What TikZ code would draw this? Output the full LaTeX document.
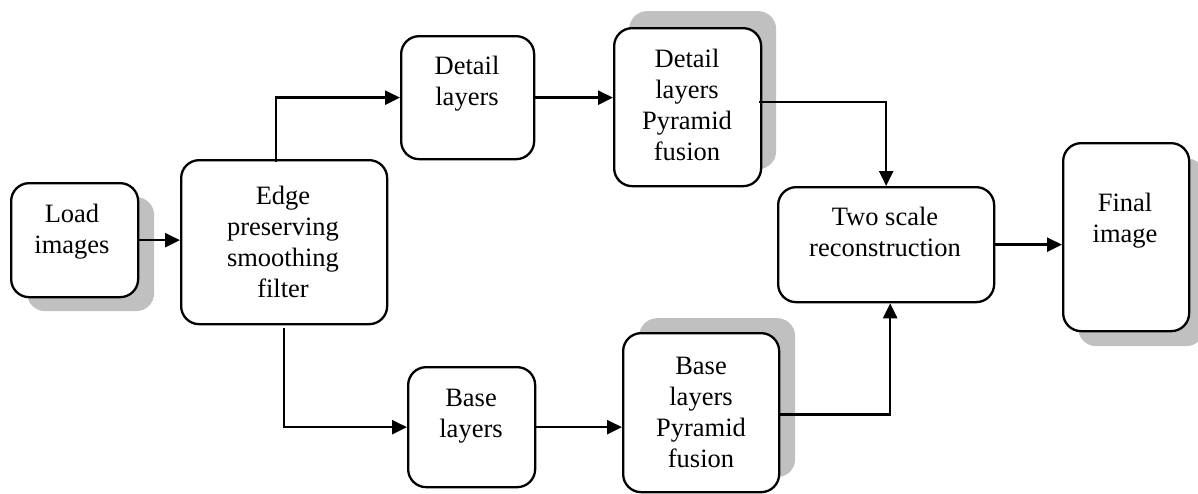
\documentclass[tikz,border=0pt]{standalone}
\usepackage{fontspec}
\setmainfont{Liberation Serif}
\usetikzlibrary{arrows.meta,calc,shadows}
\definecolor{shadowgray}{HTML}{C0C0C0}
\tikzset{
  box/.style={draw=black, line width=2.3pt, rounded corners=18pt, fill=white, inner sep=0pt, anchor=north west},
  txt/.style={align=center, inner sep=0pt, anchor=base, font=\fontsize{26.5}{31}\selectfont},
  arr/.style={line width=2.5pt, -{Triangle[length=15pt,width=14pt]}},
}
\begin{document}
\begin{tikzpicture}[x=1pt,y=-1pt]
\useasboundingbox (0,0) rectangle (1198,493);
\clip (0,0) rectangle (1198,493);
% boxes
\node[box, minimum width=127pt, minimum height=114pt,
      copy shadow={shadow xshift=16pt, shadow yshift=-14pt, draw=none, fill=shadowgray}] (load) at (10,182) {};
\node[box, minimum width=206pt, minimum height=164pt] (edge) at (180,159) {};
\node[box, minimum width=133pt, minimum height=123pt] (detail) at (400,35) {};
\node[box, minimum width=147pt, minimum height=158pt,
      copy shadow={shadow xshift=15pt, shadow yshift=17pt, draw=none, fill=shadowgray}] (dpyr) at (613,27) {};
\node[box, minimum width=216pt, minimum height=115pt] (two) at (777,186) {};
\node[box, minimum width=126pt, minimum height=188pt,
      copy shadow={shadow xshift=15pt, shadow yshift=-15pt, draw=none, fill=shadowgray}] (final) at (1062,142) {};
\node[box, minimum width=127pt, minimum height=120pt] (base) at (407,366) {};
\node[box, minimum width=156pt, minimum height=159pt,
      copy shadow={shadow xshift=16pt, shadow yshift=15pt, draw=none, fill=shadowgray}] (bpyr) at (622,332) {};
% texts (anchor base = baseline of the last line)
\node[txt] at (72,253) {Load\\images};
\node[txt] at (283,297) {Edge\\preserving\\smoothing\\filter};
\node[txt] at (467,105) {Detail\\layers};
\node[txt] at (687,160) {Detail\\layers\\Pyramid\\fusion};
\node[txt] at (885,256) {Two scale\\reconstruction};
\node[txt] at (1125,242) {Final\\image};
\node[txt] at (471,437) {Base\\layers};
\node[txt] at (701,467) {Base\\layers\\Pyramid\\fusion};
% connectors
\coordinate (eu) at ($(edge.north west)+(96,3)$);
\coordinate (dp) at ($(dpyr.east)+(-3,-5)$);
\coordinate (ed) at ($(edge.south)+(0,3)$);
\coordinate (bp) at ($(bpyr.east)+(0,2)$);
\draw[arr] (load.east) -- (edge.west |- load.east);
\draw[arr] (eu) |- (detail.west);
\draw[arr] (detail.east) -- (dpyr.west |- detail.east);
\draw[arr] (dp) -| (two.north);
\draw[arr] (ed) |- (base.west);
\draw[arr] (base.east) -- (bpyr.west |- base.east);
\draw[arr] (bp) -| ([xshift=4pt]two.south);
\draw[arr] (two.east) -- (final.west |- two.east);
\end{tikzpicture}
\end{document}
